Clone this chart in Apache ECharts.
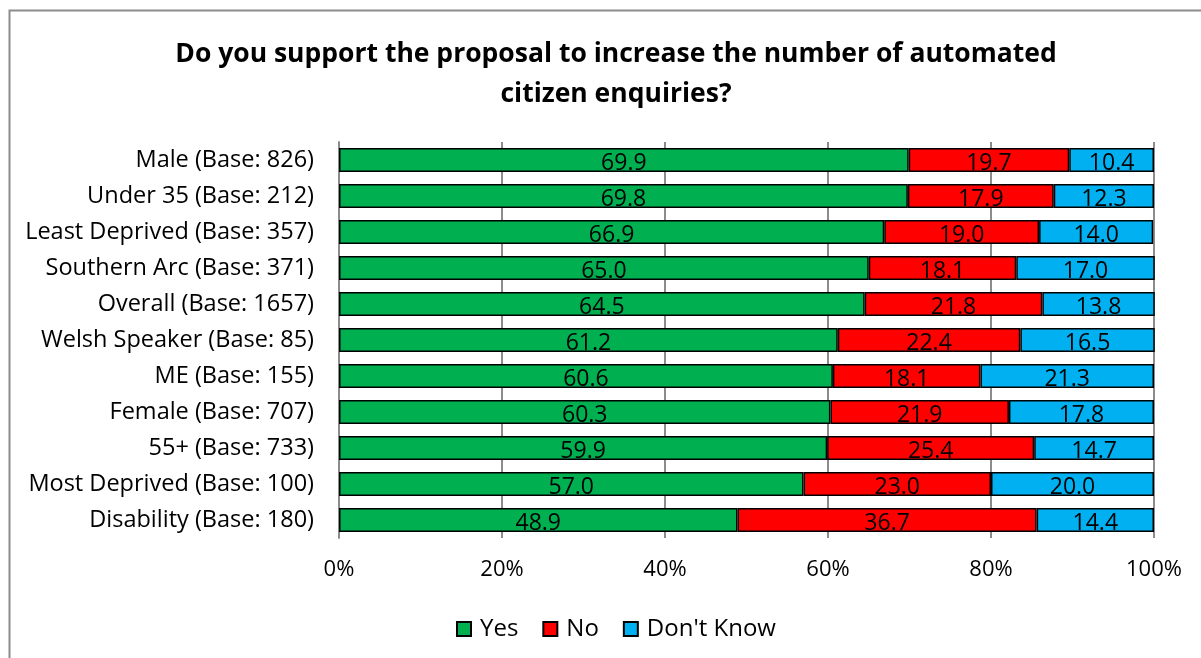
<!DOCTYPE html>
<html><head><meta charset="utf-8">
<script src="https://cdn.jsdelivr.net/npm/echarts@6/dist/echarts.min.js"></script>
<style>html,body{margin:0;padding:0;background:#fff}#c{width:1201px;height:658px}</style>
</head><body><div id="c"></div>
<script>
const categories = ["Male (Base: 826)","Under 35 (Base: 212)","Least Deprived (Base: 357)","Southern Arc (Base: 371)","Overall (Base: 1657)","Welsh Speaker (Base: 85)","ME (Base: 155)","Female (Base: 707)","55+ (Base: 733)","Most Deprived (Base: 100)","Disability (Base: 180)"];
const yes = [69.9,69.8,66.9,65.0,64.5,61.2,60.6,60.3,59.9,57.0,48.9];
const no = [19.7,17.9,19.0,18.1,21.8,22.4,18.1,21.9,25.4,23.0,36.7];
const dontKnow = [10.4,12.3,14.0,17.0,13.8,16.5,21.3,17.8,14.7,20.0,14.4];
const xTicks = [0,20,40,60,80,100];

const FONT = "'Open Sans', 'Liberation Sans', sans-serif";
const chart = echarts.init(document.getElementById('c'));
function mk(name, data, color){
  return {name, type:'bar', stack:'t', data, barWidth:24,
    itemStyle:{color, borderColor:'#000', borderWidth:1.5},
    label:{show:true, position:'inside', formatter:p=>p.value.toFixed(1), color:'#000', fontSize:23, fontFamily:FONT, offset:[0,3]},
    emphasis:{disabled:true}};
}
chart.setOption({
  animation:false,
  title:{text:'Do you support the proposal to increase the number of automated\ncitizen enquiries?', left:611, top:29, textAlign:'center',
    textStyle:{fontSize:26.5, fontWeight:'bold', fontFamily:FONT, color:'#000', lineHeight:40}},
  graphic:[{type:'rect', shape:{x:9.5,y:10.5,width:1300,height:700}, style:{fill:null, stroke:'#8c8c8c', lineWidth:2}, silent:true}],
  grid:{left:339, right:47, top:142, bottom:120},
  xAxis:{type:'value', min:0, max:100, interval:20,
    axisLabel:{formatter:v=>xTicks.includes(v)?v+'%':'', fontSize:22, fontFamily:FONT, color:'#000', margin:21},
    splitLine:{show:true, lineStyle:{color:'#8c8c8c', width:2}},
    axisLine:{show:false}, axisTick:{show:false}},
  yAxis:{type:'category', data:categories, inverse:true,
    axisLabel:{fontSize:23.5, fontFamily:FONT, color:'#000', margin:25},
    axisLine:{show:true, lineStyle:{color:'#8c8c8c', width:2}}, axisTick:{show:false}},
  legend:{bottom:12, left:451, itemWidth:14, itemHeight:14, itemGap:24,
    textStyle:{fontSize:24, fontFamily:FONT, color:'#000', padding:[0,0,0,4]},
    data:[{name:'Yes',icon:'rect'},{name:'No',icon:'rect'},{name:"Don't Know",icon:'rect'}]},
  series:[mk('Yes',yes,'#00b050'), mk('No',no,'#ff0000'), mk("Don't Know",dontKnow,'#00b0f0')]
});
</script></body></html>
